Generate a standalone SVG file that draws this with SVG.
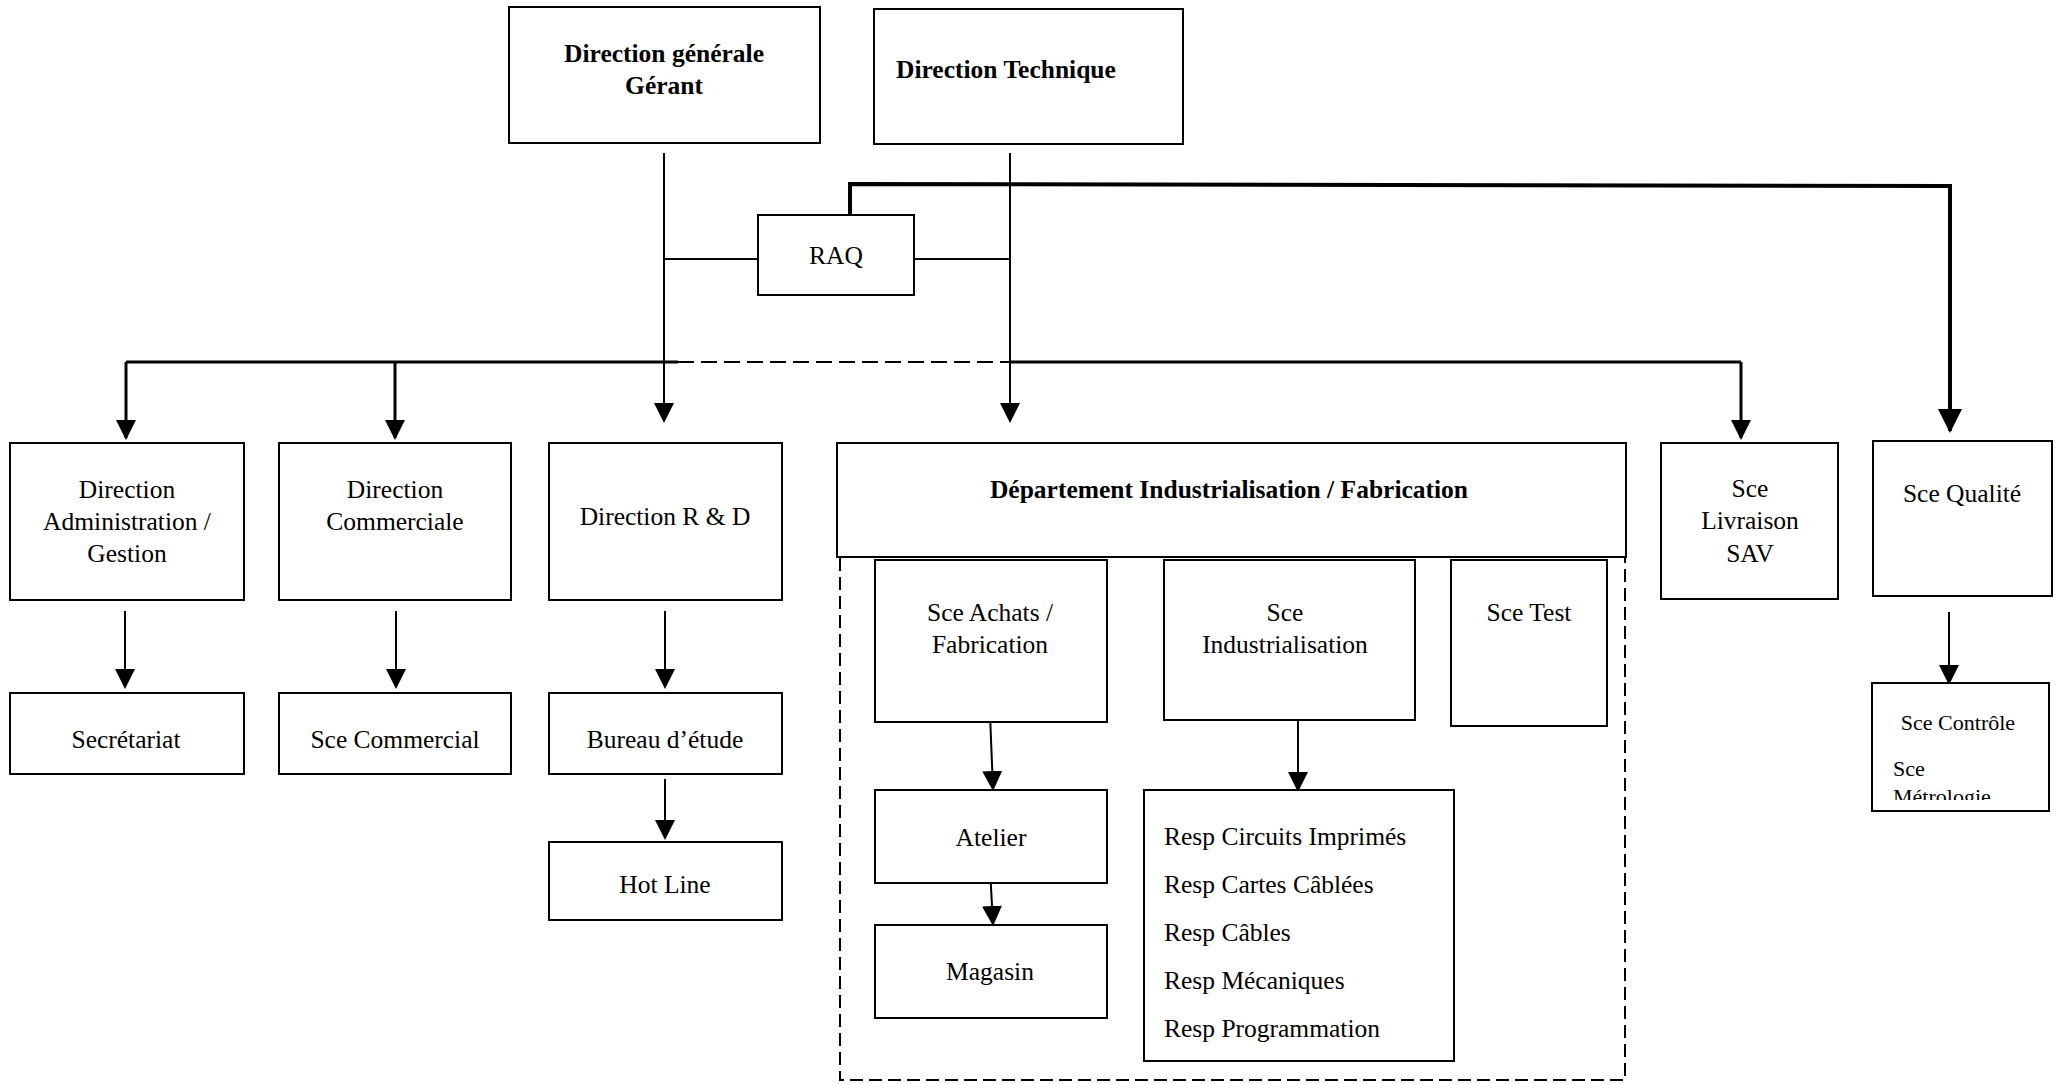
<svg xmlns="http://www.w3.org/2000/svg" width="2057" height="1084" viewBox="0 0 2057 1084">
<style>
.box{fill:#fff;stroke:#000;stroke-width:2}
.t{font-family:"Liberation Serif","Times New Roman",serif;font-size:25.5px;fill:#000}
.s{font-size:22px}
.b{font-weight:bold}
.c{text-anchor:middle}
.ln{fill:none;stroke:#000;stroke-width:2}
.bus{fill:none;stroke:#000;stroke-width:3}
.thick{fill:none;stroke:#000;stroke-width:4}
.dash{fill:none;stroke:#000;stroke-width:2;stroke-dasharray:13 6}
</style>
<defs>
<marker id="a" markerUnits="userSpaceOnUse" viewBox="0 0 20 20" markerWidth="20" markerHeight="20" refX="18" refY="10" orient="auto"><path d="M0,0 L20,10 L0,20 z" fill="#000"/></marker>
<marker id="A" markerUnits="userSpaceOnUse" viewBox="0 0 24 24" markerWidth="24" markerHeight="24" refX="22" refY="12" orient="auto"><path d="M0,0 L24,12 L0,24 z" fill="#000"/></marker>
<clipPath id="cq"><rect x="1874" y="685" width="174" height="115"/></clipPath>
</defs>

<g id="connectors">
<path class="ln" d="M664,153 V421" marker-end="url(#a)"/>
<path class="ln" d="M1010,153 V421" marker-end="url(#a)"/>
<path class="ln" d="M664,259 H758"/>
<path class="ln" d="M915,259 H1010"/>
<path class="thick" d="M850,215 V184 L1950,186 V431" marker-end="url(#A)"/>
<path class="bus" d="M126,362 H678"/>
<path class="dash" d="M678,362 H1010" style="stroke-dasharray:16 7"/>
<path class="bus" d="M1010,362 H1741"/>
<path class="bus" d="M126,362 V438" marker-end="url(#a)"/>
<path class="bus" d="M395,362 V438" marker-end="url(#a)"/>
<path class="bus" d="M1741,362 V438" marker-end="url(#a)"/>
<path class="ln" d="M125,611 V687" marker-end="url(#a)"/>
<path class="ln" d="M396,611 V687" marker-end="url(#a)"/>
<path class="ln" d="M665,611 V687" marker-end="url(#a)"/>
<path class="ln" d="M665,779 V838" marker-end="url(#a)"/>
<path class="ln" d="M990,714 L993,789" marker-end="url(#a)"/>
<path class="ln" d="M990,869 L993,924" marker-end="url(#a)"/>
<path class="ln" d="M1298,714 V790" marker-end="url(#a)"/>
<path class="ln" d="M1949,612 V683" marker-end="url(#a)"/>
<path class="dash" d="M840,558 V1080 H1625 V558"/>
</g>

<g id="dg"><rect class="box" x="509" y="7" width="311" height="136"/>
<text class="t b c" x="664" y="62">Direction générale</text>
<text class="t b c" x="664" y="94">Gérant</text></g>

<g id="dt"><rect class="box" x="874" y="9" width="309" height="135"/>
<text class="t b" x="896" y="78">Direction Technique</text></g>

<g id="raq"><rect class="box" x="758" y="215" width="156" height="80"/>
<text class="t c" x="836" y="264">RAQ</text></g>

<g id="admin"><rect class="box" x="10" y="443" width="234" height="157"/>
<text class="t c" x="127" y="498">Direction</text>
<text class="t c" x="127" y="530">Administration /</text>
<text class="t c" x="127" y="562">Gestion</text></g>

<g id="commerciale"><rect class="box" x="279" y="443" width="232" height="157"/>
<text class="t c" x="395" y="498">Direction</text>
<text class="t c" x="395" y="530">Commerciale</text></g>

<g id="rd"><rect class="box" x="549" y="443" width="233" height="157"/>
<text class="t c" x="665" y="525">Direction R &amp; D</text></g>

<g id="secretariat"><rect class="box" x="10" y="693" width="234" height="81"/>
<text class="t c" x="126" y="748">Secrétariat</text></g>

<g id="scecommercial"><rect class="box" x="279" y="693" width="232" height="81"/>
<text class="t c" x="395" y="748">Sce Commercial</text></g>

<g id="bureau"><rect class="box" x="549" y="693" width="233" height="81"/>
<text class="t c" x="665" y="748">Bureau d’étude</text></g>

<g id="hotline"><rect class="box" x="549" y="842" width="233" height="78"/>
<text class="t c" x="665" y="893">Hot Line</text></g>

<g id="dept"><rect class="box" x="837" y="443" width="789" height="114"/>
<text class="t b c" x="1229" y="498">Département Industrialisation / Fabrication</text></g>

<g id="achats"><rect class="box" x="875" y="560" width="232" height="162"/>
<text class="t c" x="990" y="621">Sce Achats /</text>
<text class="t c" x="990" y="653">Fabrication</text></g>

<g id="indus"><rect class="box" x="1164" y="560" width="251" height="160"/>
<text class="t c" x="1285" y="621">Sce</text>
<text class="t c" x="1285" y="653">Industrialisation</text></g>

<g id="test"><rect class="box" x="1451" y="560" width="156" height="166"/>
<text class="t c" x="1529" y="621">Sce Test</text></g>

<g id="atelier"><rect class="box" x="875" y="790" width="232" height="93"/>
<text class="t c" x="991" y="846">Atelier</text></g>

<g id="magasin"><rect class="box" x="875" y="925" width="232" height="93"/>
<text class="t c" x="990" y="980">Magasin</text></g>

<g id="resp"><rect class="box" x="1144" y="790" width="310" height="271"/>
<text class="t" x="1164" y="845">Resp Circuits Imprimés</text>
<text class="t" x="1164" y="893">Resp Cartes Câblées</text>
<text class="t" x="1164" y="941">Resp Câbles</text>
<text class="t" x="1164" y="989">Resp Mécaniques</text>
<text class="t" x="1164" y="1037">Resp Programmation</text></g>

<g id="livraison"><rect class="box" x="1661" y="443" width="177" height="156"/>
<text class="t c" x="1750" y="497">Sce</text>
<text class="t c" x="1750" y="529">Livraison</text>
<text class="t c" x="1750" y="562">SAV</text></g>

<g id="qualite"><rect class="box" x="1873" y="441" width="179" height="155"/>
<text class="t c" x="1962" y="502">Sce Qualité</text></g>

<g id="controle"><rect class="box" x="1872" y="683" width="177" height="128"/>
<text class="t s c" x="1958" y="730">Sce Contrôle</text>
<g clip-path="url(#cq)">
<text class="t s" x="1893" y="776">Sce</text>
<text class="t s" x="1893" y="804">Métrologie</text></g></g>
</svg>
